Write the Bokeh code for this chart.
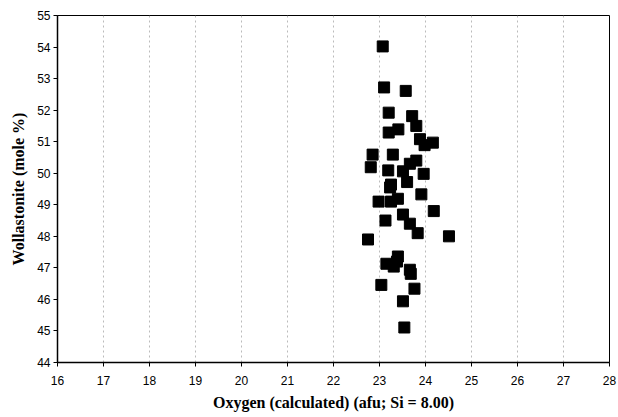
from bokeh.plotting import figure
from bokeh.models import FixedTicker, Range1d
from bokeh.embed import file_html
from bokeh.resources import INLINE

oxygen = [23.07, 23.10, 23.57, 23.20, 23.71, 23.80, 23.41, 23.20, 23.88, 24.16, 23.98,
          22.85, 23.29, 22.81, 23.19, 23.51, 23.66, 23.80, 23.96, 23.60, 23.25, 23.23,
          22.98, 23.25, 23.40, 23.91, 24.18, 23.51, 23.13, 23.66, 23.83, 22.75, 24.51,
          23.40, 23.38, 23.15, 23.31, 23.66, 23.68, 23.04, 23.76, 23.51, 23.54]
wollastonite = [54.02, 52.72, 52.61, 51.92, 51.81, 51.50, 51.39, 51.29, 51.08, 50.97, 50.89,
                50.59, 50.59, 50.19, 50.09, 50.06, 50.30, 50.40, 49.98, 49.72, 49.64, 49.55,
                49.10, 49.10, 49.19, 49.33, 48.80, 48.69, 48.50, 48.40, 48.10, 47.90, 48.00,
                47.36, 47.20, 47.13, 47.04, 46.94, 46.81, 46.46, 46.34, 45.94, 45.11]

x_ticks = list(range(16, 29))
y_ticks = list(range(44, 56))

p = figure(width=618, height=417, output_backend="svg", toolbar_location=None,
           x_range=Range1d(16, 28), y_range=Range1d(44, 55),
           min_border_left=57, min_border_right=9, min_border_top=15, min_border_bottom=55)

p.scatter(oxygen, wollastonite, marker="square", size=11,
          fill_color="black", line_color="black")

p.xaxis.ticker = FixedTicker(ticks=x_ticks)
p.yaxis.ticker = FixedTicker(ticks=y_ticks)
p.xaxis.minor_tick_line_color = None
p.yaxis.minor_tick_line_color = None
for ax in (p.xaxis, p.yaxis):
    ax.major_tick_in = 0
    ax.major_tick_out = 4
    ax.axis_line_color = "black"
    ax.axis_line_width = 1.5
    ax.major_tick_line_color = "black"
    ax.major_label_text_font = "Liberation Sans"
    ax.major_label_text_font_size = "12px"
    ax.major_label_text_color = "black"
    ax.axis_label_text_font = "Liberation Serif"
    ax.axis_label_text_font_style = "bold"
    ax.axis_label_text_font_size = "16px"
    ax.axis_label_text_color = "black"

p.xaxis.axis_label = "Oxygen (calculated) (afu; Si = 8.00)"
p.yaxis.axis_label = "Wollastonite (mole %)"
p.xaxis.major_label_standoff = 9
p.xaxis.axis_label_standoff = 6
p.yaxis.major_label_standoff = 3
p.yaxis.axis_label_standoff = 7

p.xgrid.grid_line_color = "#aaaaaa"
p.xgrid.grid_line_dash = "2 3"
p.xgrid.grid_line_alpha = 0.8
p.ygrid.grid_line_color = None

p.outline_line_color = "black"
p.outline_line_width = 1
p.background_fill_color = "white"
p.border_fill_color = "white"

open("out.html", "w").write(file_html(p, INLINE))
